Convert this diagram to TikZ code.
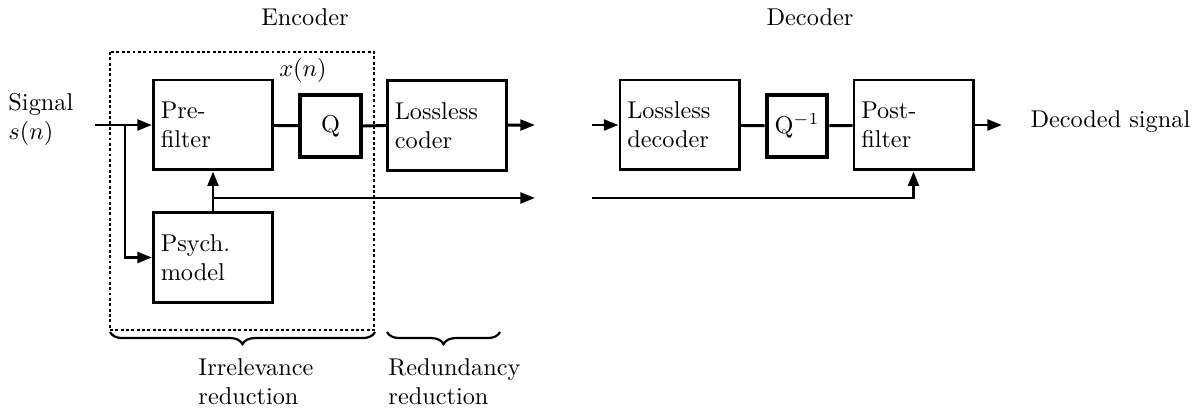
\documentclass[tikz,border=0pt]{standalone}
\usepackage{amsmath,amssymb}
\usetikzlibrary{arrows.meta,decorations.pathreplacing}

\begin{document}
\begin{tikzpicture}[x=0.4115pt,y=-0.4115pt,
  blk/.style={draw,line width=1.2pt,minimum height=37pt,text width=43pt,inner xsep=3pt,align=left},
  qblk/.style={draw,line width=1.65pt,minimum width=25pt,minimum height=25.5pt,inner sep=0pt},
  sig/.style={line width=1.2pt},
  arr/.style={sig,-{Triangle[length=6pt,width=4.4pt]}},
  lbl/.style={inner sep=0pt,align=left},
  brc/.style={line width=0.9pt,decorate,decoration={brace,mirror,amplitude=5pt}}]
\useasboundingbox (0,0) rectangle (1194,408);
% encoder
\draw [line width=0.9pt,dash pattern=on 1.2pt off 1pt] (110,52) rectangle (374,330);
\node (enc) at (305,17) {Encoder};
\node [lbl,anchor=north west] (sig) at (8,93) {Signal\\$s(n)$};
\node [blk] (pre) at (213,125) {Pre-\\filter};
\node [qblk] (q) at (330.5,126) {Q};
\node [blk] (psy) at (213,257.5) {Psych.\\model};
\node [blk] (cod) at (447,125.5) {Lossless\\coder};
\node (xn) at (303,70) {$x(n)$};
\coordinate (in) at (95,125);
\coordinate (br) at (125,125);
\coordinate (co) at (535,125);
\coordinate (so) at (535,198);
\draw [arr] (in) -- (pre);
\draw [arr] (br) |- (psy);
\draw [sig] (pre) -- (q);
\draw [sig] (q.east) -- (cod.west);
\draw [arr] (cod) -- (co);
\draw [arr] (psy) -- (pre);
\draw [arr] (psy.north |- so) -- (so);
% decoder
\node (dec) at (810,17) {Decoder};
\node [blk] (ldc) at (679.5,125) {Lossless\\decoder};
\node [qblk] (qi) at (797,126) {Q$^{-1}$};
\node [blk] (pst) at (913.5,125) {Post-\\filter};
\node [lbl,anchor=west] (out) at (1030,122) {Decoded signal};
\coordinate (di) at (592,125);
\coordinate (si) at (592,198);
\coordinate (do) at (1002,125);
\draw [arr] (di) -- (ldc);
\draw [sig] (ldc) -- (qi);
\draw [sig] (qi) -- (pst);
\draw [arr] (pst) -- (do);
\draw [arr] (si) -| (pst.south);
% braces
\draw [brc] (110,332) -- (375,332);
\draw [brc] (387,332) -- (500,332);
\node [lbl,anchor=north west] (irr) at (198,358) {Irrelevance\\reduction};
\node [lbl,anchor=north west] (red) at (388,358) {Redundancy\\reduction};
\end{tikzpicture}
\end{document}
